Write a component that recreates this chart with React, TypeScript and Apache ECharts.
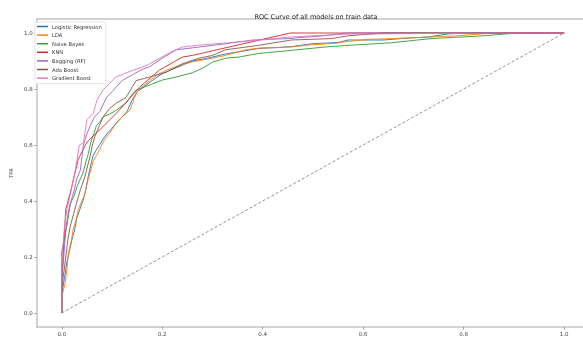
import React, { useEffect, useRef } from "react";
import * as echarts from "echarts";

const modelNames = [
  "Logistic Regression",
  "LDA",
  "Naive Bayes",
  "KNN",
  "Bagging (RF)",
  "Ada Boost",
  "Gradient Boost",
];

const modelColors = ["#1f77b4", "#ff7f0e", "#2ca02c", "#d62728", "#9467bd", "#8c564b", "#e377c2"];

const xTicks = [0, 0.2, 0.4, 0.6, 0.8, 1.0];
const yTicks = [0, 0.2, 0.4, 0.6, 0.8, 1.0];

const rocLogReg = [
  [0, 0], [0, 0.07], [0.005, 0.12], [0.01, 0.18], [0.015, 0.22], [0.02, 0.26], [0.026, 0.3],
  [0.03, 0.34], [0.036, 0.37], [0.042, 0.4], [0.048, 0.44], [0.053, 0.49], [0.058, 0.53],
  [0.062, 0.56], [0.068, 0.58], [0.075, 0.6], [0.082, 0.62], [0.09, 0.64], [0.1, 0.66],
  [0.11, 0.68], [0.12, 0.7], [0.13, 0.72], [0.14, 0.76], [0.15, 0.79], [0.165, 0.81],
  [0.18, 0.83], [0.2, 0.855], [0.22, 0.87], [0.24, 0.885], [0.26, 0.9], [0.29, 0.91],
  [0.326, 0.925], [0.36, 0.935], [0.392, 0.945], [0.43, 0.948], [0.46, 0.952], [0.5, 0.962],
  [0.55, 0.966], [0.57, 0.975], [0.64, 0.975], [0.675, 0.98], [0.73, 0.986], [0.77, 0.997],
  [0.81, 1.0], [1, 1],
];

const rocLDA = [
  [0, 0], [0, 0.06], [0.006, 0.1], [0.01, 0.15], [0.013, 0.21], [0.018, 0.25], [0.023, 0.3],
  [0.028, 0.33], [0.033, 0.37], [0.04, 0.4], [0.045, 0.42], [0.05, 0.46], [0.056, 0.5],
  [0.063, 0.545], [0.07, 0.565], [0.076, 0.585], [0.082, 0.61], [0.09, 0.63], [0.1, 0.655],
  [0.109, 0.68], [0.12, 0.7], [0.136, 0.725], [0.145, 0.77], [0.152, 0.795], [0.175, 0.83],
  [0.19, 0.85], [0.208, 0.867], [0.24, 0.888], [0.26, 0.897], [0.3, 0.91], [0.326, 0.92],
  [0.366, 0.94], [0.392, 0.946], [0.457, 0.95], [0.49, 0.957], [0.544, 0.963], [0.57, 0.97],
  [0.616, 0.978], [0.66, 0.98], [0.735, 0.986], [0.787, 0.99], [0.86, 1.0], [1, 1],
];

const rocNaiveBayes = [
  [0, 0], [0, 0.22], [0.005, 0.26], [0.01, 0.31], [0.017, 0.39], [0.025, 0.42], [0.03, 0.45],
  [0.036, 0.475], [0.042, 0.5], [0.048, 0.54], [0.053, 0.57], [0.059, 0.617], [0.064, 0.64],
  [0.069, 0.67], [0.075, 0.68], [0.082, 0.7], [0.095, 0.71], [0.109, 0.725], [0.128, 0.75],
  [0.14, 0.78], [0.148, 0.796], [0.175, 0.814], [0.2, 0.832], [0.228, 0.843], [0.26, 0.858],
  [0.28, 0.874], [0.3, 0.896], [0.326, 0.91], [0.352, 0.914], [0.392, 0.927], [0.457, 0.938],
  [0.524, 0.95], [0.57, 0.956], [0.656, 0.965], [0.708, 0.975], [0.735, 0.98], [0.84, 0.99],
  [0.906, 1.0], [1, 1],
];

const rocKNN = [
  [0, 0], [0, 0.1], [0.004, 0.25], [0.008, 0.37], [0.017, 0.43], [0.033, 0.55], [0.05, 0.61],
  [0.076, 0.655], [0.109, 0.714], [0.155, 0.807], [0.194, 0.867], [0.24, 0.914], [0.26, 0.92],
  [0.455, 1.0], [1, 1],
];

const rocBagging = [
  [0, 0], [0, 0.12], [0.004, 0.2], [0.008, 0.3], [0.013, 0.36], [0.017, 0.39], [0.025, 0.44],
  [0.03, 0.48], [0.037, 0.51], [0.043, 0.6], [0.05, 0.64], [0.057, 0.67], [0.065, 0.7],
  [0.076, 0.72], [0.089, 0.77], [0.1, 0.79], [0.12, 0.83], [0.14, 0.85], [0.16, 0.87],
  [0.175, 0.88], [0.2, 0.91], [0.228, 0.94], [0.26, 0.947], [0.32, 0.96], [0.38, 0.975],
  [0.45, 0.98], [0.52, 0.99], [0.567, 1.0], [1, 1],
];

const rocAdaBoost = [
  [0, 0], [0, 0.08], [0.003, 0.13], [0.008, 0.2], [0.012, 0.26], [0.017, 0.31], [0.023, 0.35],
  [0.029, 0.39], [0.037, 0.44], [0.046, 0.487], [0.056, 0.557], [0.061, 0.6], [0.066, 0.63],
  [0.075, 0.67], [0.082, 0.7], [0.095, 0.73], [0.109, 0.75], [0.128, 0.77], [0.138, 0.8],
  [0.148, 0.83], [0.175, 0.843], [0.208, 0.86], [0.24, 0.89], [0.273, 0.91], [0.3, 0.92],
  [0.326, 0.94], [0.392, 0.956], [0.457, 0.975], [0.537, 0.98], [0.57, 0.99], [0.64, 1.0], [1, 1],
];

const rocGradBoost = [
  [0, 0], [0, 0.18], [0.005, 0.3], [0.01, 0.37], [0.013, 0.39], [0.02, 0.45], [0.027, 0.51],
  [0.035, 0.6], [0.043, 0.607], [0.05, 0.69], [0.063, 0.714], [0.07, 0.76], [0.082, 0.796],
  [0.095, 0.82], [0.108, 0.843], [0.142, 0.867], [0.17, 0.885], [0.188, 0.903], [0.215, 0.93],
  [0.24, 0.95], [0.27, 0.956], [0.33, 0.965], [0.39, 0.974], [0.45, 0.985], [0.5, 0.99],
  [0.57, 0.996], [0.86, 1.0], [1, 1],
];

const chanceLine = [[0, 0], [1, 1]];

const modelCurves = [rocLogReg, rocLDA, rocNaiveBayes, rocKNN, rocBagging, rocAdaBoost, rocGradBoost];

const FONT = "DejaVu Sans";
const SPINE = "#c4c4c4";

export default function App() {
  const ref = useRef<HTMLDivElement>(null);
  useEffect(() => {
    if (!ref.current) return;
    const chart = echarts.init(ref.current, undefined, { renderer: "svg" });
    const series: any[] = modelNames.map((name, i) => ({
      name,
      type: "line",
      data: modelCurves[i],
      showSymbol: false,
      symbol: "none",
      lineStyle: { color: modelColors[i], width: 1.0, opacity: 0.9 },
      itemStyle: { color: modelColors[i] },
      z: 3,
    }));
    series.push({
      name: "chance",
      type: "line",
      data: chanceLine,
      symbol: "none",
      lineStyle: { color: "#777", width: 0.8, type: [3, 2] },
      z: 2,
    });
    chart.setOption({
      animation: false,
      textStyle: { fontFamily: FONT },
      title: {
        text: "ROC Curve of all models on train data",
        left: 311,
        top: 8,
        textAlign: "center",
        textStyle: { fontSize: 6.5, fontWeight: "normal", color: "#222", fontFamily: FONT },
      },
      legend: {
        data: modelNames,
        orient: "vertical",
        left: 35,
        top: 22,
        padding: [1, 4, 2, 2],
        itemWidth: 11,
        itemHeight: 1.5,
        itemGap: 1.6,
        icon: "rect",
        backgroundColor: "#fff",
        borderColor: "#ddd",
        borderWidth: 0.8,
        borderRadius: 2,
        textStyle: { fontSize: 5.2, lineHeight: 7, color: "#333", fontFamily: FONT, padding: [0, 0, 0, -1] },
      },
      grid: {
        left: 33,
        top: 19,
        right: 0,
        bottom: 12,
        show: false,
      },
      xAxis: [
        {
          type: "value",
          min: -0.05,
          max: 1.0376,
          splitLine: { show: false },
          axisLine: { show: true, onZero: false, lineStyle: { color: SPINE, width: 1.5 } },
          axisTick: { show: true, customValues: xTicks, length: 2.5, lineStyle: { color: "#666", width: 0.6 } },
          axisLabel: {
            customValues: xTicks,
            fontSize: 5.5,
            color: "#444",
            margin: 4,
            formatter: (v: number) => v.toFixed(1),
          },
        },
        {
          type: "value",
          position: "top",
          min: -0.05,
          max: 1.0376,
          splitLine: { show: false },
          axisLine: { show: true, onZero: false, lineStyle: { color: SPINE, width: 1.5 } },
          axisTick: { show: false },
          axisLabel: { show: false },
        },
      ],
      yAxis: {
        type: "value",
        min: -0.05,
        max: 1.05,
        name: "TPR",
        nameLocation: "middle",
        nameGap: 17,
        nameRotate: 90,
        nameTextStyle: { fontSize: 5, color: "#333" },
        splitLine: { show: false },
        axisLine: { show: true, onZero: false, lineStyle: { color: SPINE, width: 1.5 } },
        axisTick: { show: true, customValues: yTicks, length: 2.5, lineStyle: { color: "#666", width: 0.6 } },
        axisLabel: {
          customValues: yTicks,
          fontSize: 5.5,
          color: "#444",
          margin: 4,
          formatter: (v: number) => v.toFixed(1),
        },
      },
      series,
    });
    return () => chart.dispose();
  }, []);
  return <div ref={ref} style={{ position: "fixed", left: 0, top: 0, width: 583, height: 339 }} />;
}
